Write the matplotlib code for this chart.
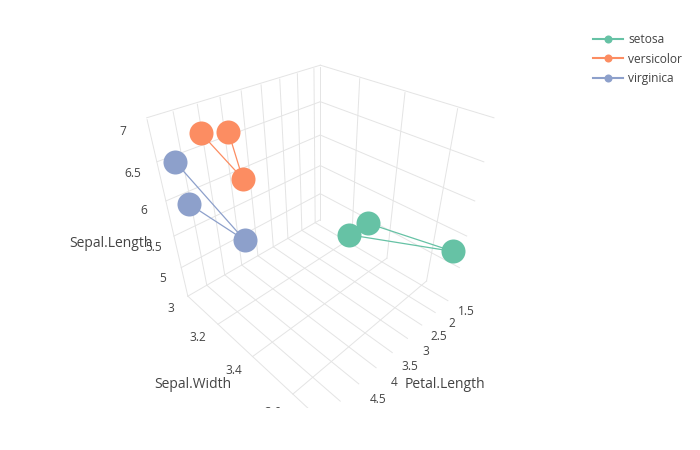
import matplotlib
matplotlib.use('Agg')
from matplotlib import pyplot as plt
from matplotlib.lines import Line2D
from matplotlib.patches import Rectangle
from matplotlib.transforms import offset_copy
from mpl_toolkits.mplot3d import proj3d

plt.rcParams['font.family'] = ['Open Sans', 'DejaVu Sans']

species = ['setosa', 'versicolor', 'virginica']
colors = ['#66c2a5', '#fc8d62', '#8da0cb']

petal_length = [[1.4, 1.5, 1.4], [4.7, 4.5, 4.85], [5.15, 5.4, 5.05]]
sepal_width = [[3.2, 3.7, 3.3], [3.21, 3.205, 3.1], [3.0, 3.41, 3.0]]
sepal_length = [[4.59, 5.29, 4.98], [6.93, 6.34, 6.82], [6.42, 6.18, 5.84]]

petal_ticks = [1.5, 2, 2.5, 3, 3.5, 4, 4.5, 5, 5.5]
width_ticks = [3, 3.2, 3.4, 3.6]
length_ticks = [5, 5.5, 6, 6.5, 7]
petal_lim = (1.3, 5.5)
width_lim = (3.0, 3.72)
length_lim = (4.5, 6.98)

# label offsets from the end of each grid line, in pixels
length_dx = [-19, -20, -22, -24, -24]
length_dy = [-11, -11, -10, -12, -14]
width_dx = [-17, -20, -19, -20]
width_dy = [-12, -13, -14, -18]
petal_dx = [18, 17, 17, 18, 18, 18, 19, 19, 19]
petal_dy = [-11, -11, -11, -13, -14, -15, -16, -17, -18]

grid_col = '#e4e4e4'
text_col = '#444444'

fig = plt.figure(figsize=(7, 4.5), dpi=100)
# plotly default camera, eye = (1.25, 1.25, 1.25)
ax = fig.add_axes([137 / 700, 47 / 450, 357 / 700, 357 / 450], projection='3d')
ax.set_proj_type('persp', focal_length=0.2382)
ax.view_init(elev=35.264, azim=45)
ax.set_box_aspect((1, 1, 1))
ax.set_axis_off()

# the scene is cut off at the bottom, like the reference
scene = Rectangle((0, 42 / 450), 1, 408 / 450, transform=fig.transFigure)


def grid(xs, ys, zs):
    line, = ax.plot(xs, ys, zs, color=grid_col, lw=0.7, zorder=1)
    line.set_clip_path(scene)


for z in length_ticks:
    grid(petal_lim, (width_lim[0], width_lim[0]), (z, z))
    grid((petal_lim[0], petal_lim[0]), width_lim, (z, z))
for p in petal_ticks:
    grid((p, p), (width_lim[0], width_lim[0]), length_lim)
    grid((p, p), width_lim, (length_lim[0], length_lim[0]))
for w in width_ticks:
    grid((petal_lim[0], petal_lim[0]), (w, w), length_lim)
    grid(petal_lim, (w, w), (length_lim[0], length_lim[0]))

for i in range(3):
    line, = ax.plot(petal_length[i], sepal_width[i], sepal_length[i], color=colors[i],
                    lw=0.9, marker='o', ms=17.3, mew=0, zorder=3)
    line.set_clip_path(scene)

ax.set_xlim(*petal_lim, view_margin=0)
ax.set_ylim(*width_lim, view_margin=0)
ax.set_zlim(*length_lim, view_margin=0)

proj = ax.get_proj()


def tick(x, y, z, dx, dy, label):
    # project by hand so the label is plain 2d text with a pixel offset
    x2, y2, _ = proj3d.proj_transform(x, y, z, proj)
    t = fig.text(x2, y2, label, fontsize=8.6, color=text_col, ha='center', va='center',
                 transform=offset_copy(ax.transData, fig=fig, x=dx, y=dy, units='dots'),
                 clip_on=True)
    t.set_clip_path(scene)


for z, dx, dy in zip(length_ticks, length_dx, length_dy):
    tick(petal_lim[1], width_lim[0], z, dx, dy, f'{z:g}')
for w, dx, dy in zip(width_ticks, width_dx, width_dy):
    tick(petal_lim[1], w, length_lim[0], dx, dy, f'{w:g}')
for p, dx, dy in zip(petal_ticks, petal_dx, petal_dy):
    tick(p, width_lim[1], length_lim[0], dx, dy, f'{p:g}')

fig.text(111 / 700, 1 - 243 / 450, 'Sepal.Length', fontsize=10, color=text_col, ha='center', va='center')
fig.text(193 / 700, 1 - 385 / 450, 'Sepal.Width', fontsize=10, color=text_col, ha='center', va='center')
fig.text(445 / 700, 1 - 385 / 450, 'Petal.Length', fontsize=10, color=text_col, ha='center', va='center')

handles = [Line2D([], [], color=c, lw=1.5, marker='o', ms=5.8, mew=0) for c in colors]
leg = fig.legend(handles, species, loc='upper left', bbox_to_anchor=(593 / 700, 1 - 33 / 450),
                 frameon=False, fontsize=8.64, labelcolor=text_col, handlelength=2.5,
                 handletextpad=0.42, labelspacing=0.55, borderpad=0, borderaxespad=0)

fig.savefig('out.png', dpi=100, facecolor='white')
